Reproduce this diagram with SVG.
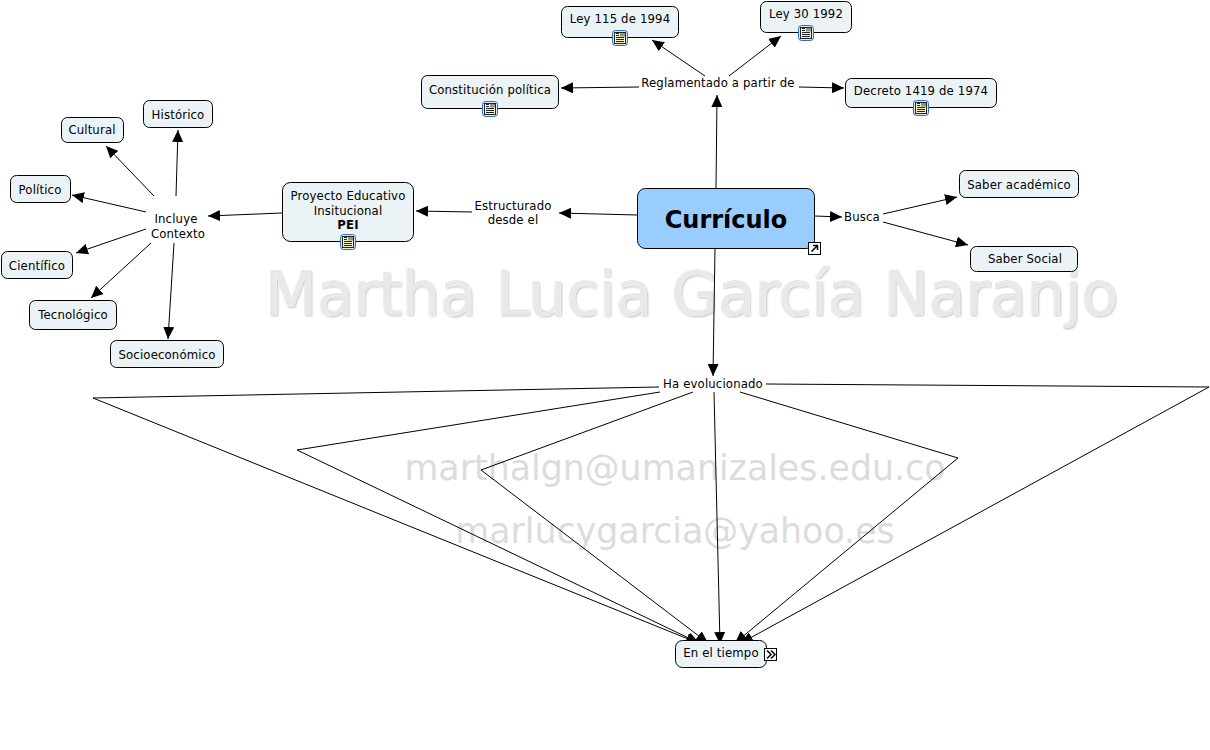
<svg xmlns="http://www.w3.org/2000/svg" width="1210" height="750" viewBox="0 0 1210 750">
<style>
text{font-family:"DejaVu Sans",Verdana,sans-serif;font-size:11.7px;letter-spacing:.15px;fill:#000;text-anchor:middle}
.n{fill:#ebf3f6;stroke:#000;stroke-width:1}
.c{fill:none;stroke:#000;stroke-width:1;marker-end:url(#a)}
.w{font-size:60px;letter-spacing:0;fill:#e9e9e9;stroke:#d4d4d4;stroke-width:1}
.ws{font-size:60px;letter-spacing:0;fill:#b5b5b5;filter:url(#b)}
.wh{font-size:60px;letter-spacing:0;fill:none;stroke:#f8f8f8;stroke-width:.7}
.m{font-size:34.8px;letter-spacing:0;fill:#dcdcdc}
.i1{fill:#dbe8f7;stroke:#2f6fc0;stroke-width:1}
.i2{fill:#fbf6c0;stroke:#222;stroke-width:1}
.i3{stroke:#222;stroke-width:1}
</style>
<defs>
<marker id="a" markerUnits="userSpaceOnUse" markerWidth="13" markerHeight="11" refX="12" refY="5.5" orient="auto"><path d="M0 0L12 5.5L0 11z" fill="#000"/></marker>
<filter id="b" x="-5%" y="-20%" width="110%" height="140%"><feGaussianBlur stdDeviation="1"/></filter>
<g id="doc"><rect class="i1" x="-7.500" y="-7.500" width="15" height="15" rx="3"/><rect class="i2" x="-5.500" y="-5.500" width="11" height="11"/><path class="i3" d="M-4-.5H4M-4 1.500H4M-4 3.500H4M-4-2.500H-1M-4-4.500H-1"/><rect x="0" y="-5" width="5" height="3.500" fill="#7f9f8f"/><rect x="2.500" y="-5" width="2" height="2" fill="#c77"/></g>
</defs>
<rect width="1210" height="750" fill="#fff"/>
<g id="watermark">
<text class="ws" x="692.500" y="316">Martha Lucia García Naranjo</text>
<text class="w" x="691.500" y="314.500">Martha Lucia García Naranjo</text>
<text class="wh" x="691.500" y="314.500">Martha Lucia García Naranjo</text>
<text class="m" x="675" y="480">marthalgn@umanizales.edu.co</text>
<text class="m" x="675" y="543">marlucygarcia@yahoo.es</text>
</g>
<g id="connectors">
<path class="c" d="M716 188L717 95"/>
<path class="c" d="M705 76L652 40"/>
<path class="c" d="M729 76L781 36"/>
<path class="c" d="M639 87L561 88"/>
<path class="c" d="M799 87L844 88"/>
<path class="c" d="M637 215L559 213"/>
<path class="c" d="M472 212L416 211"/>
<path class="c" d="M282 213L208 216"/>
<path class="c" d="M154 196L106 146"/>
<path class="c" d="M176 196L178 130"/>
<path class="c" d="M146 212L72 195"/>
<path class="c" d="M146 229L76 253"/>
<path class="c" d="M151 243L91 298"/>
<path class="c" d="M174 243L168 339"/>
<path class="c" d="M815 216L842 217"/>
<path class="c" d="M883 214L957 197"/>
<path class="c" d="M883 222L968 245"/>
<path class="c" d="M715 249L713 376"/>
<path class="c" d="M659 387L93 398L698 643"/>
<path class="c" d="M660 392L297 450L699 643"/>
<path class="c" d="M693 392L481 470L708 643"/>
<path class="c" d="M714 392L720 644"/>
<path class="c" d="M740 392L958 458L735 643"/>
<path class="c" d="M766 384L1209 387L741 643"/>
</g>
<g id="node-curriculo"><rect x="637.500" y="188.500" width="177" height="60" rx="8" fill="#99ccff" stroke="#000"/><text x="726" y="228" style="font-size:24px;letter-spacing:0;font-weight:700">Currículo</text><rect x="808.500" y="242.500" width="12" height="12" fill="#fff" stroke="#000"/><path d="M811.500 251.500L817 246M813 245.500H817.500V250" fill="none" stroke="#000" stroke-width="1.500"/></g>
<g id="node-ley115"><rect class="n" x="561.500" y="6.500" width="117" height="31" rx="6"/><text x="620" y="23">Ley 115 de 1994</text><use href="#doc" x="620" y="38"/></g>
<g id="node-ley30"><rect class="n" x="760.500" y="1.500" width="91" height="31" rx="6"/><text x="806" y="18">Ley 30 1992</text><use href="#doc" x="806" y="33"/></g>
<g id="node-constitucion"><rect class="n" x="421.500" y="75.500" width="137" height="33" rx="6"/><text x="490" y="94">Constitución política</text><use href="#doc" x="490" y="109"/></g>
<g id="node-decreto"><rect class="n" x="845.500" y="78.500" width="151" height="29" rx="6"/><text x="921" y="95">Decreto 1419 de 1974</text><use href="#doc" x="921" y="108"/></g>
<g id="node-reglamentado"><text x="718" y="87">Reglamentado a partir de</text></g>
<g id="node-estructurado"><text x="513" y="210">Estructurado</text><text x="513" y="224">desde el</text></g>
<g id="node-pei"><rect class="n" x="282.500" y="182.500" width="131" height="59" rx="8"/><text x="348" y="200">Proyecto Educativo</text><text x="348" y="215">Insitucional</text><text x="348" y="229" style="font-weight:700">PEI</text><use href="#doc" x="348" y="242"/></g>
<g id="node-incluye"><text x="176" y="223">Incluye</text><text x="178" y="238">Contexto</text></g>
<g id="node-historico"><rect class="n" x="143.500" y="100.500" width="69" height="27" rx="6"/><text x="178" y="119">Histórico</text></g>
<g id="node-cultural"><rect class="n" x="61.500" y="117.500" width="62" height="25" rx="6"/><text x="92" y="134">Cultural</text></g>
<g id="node-politico"><rect class="n" x="10.500" y="175.500" width="60" height="27" rx="6"/><text x="40" y="194">Político</text></g>
<g id="node-cientifico"><rect class="n" x="1.500" y="251.500" width="71" height="27" rx="6"/><text x="37" y="270">Científico</text></g>
<g id="node-tecnologico"><rect class="n" x="29.500" y="300.500" width="87" height="29" rx="6"/><text x="73" y="319">Tecnológico</text></g>
<g id="node-socio"><rect class="n" x="110.500" y="340.500" width="113" height="27" rx="6"/><text x="167" y="359">Socioeconómico</text></g>
<g id="node-busca"><text x="862" y="221">Busca</text></g>
<g id="node-academico"><rect class="n" x="959.500" y="170.500" width="119" height="27" rx="6"/><text x="1019" y="189">Saber académico</text></g>
<g id="node-social"><rect class="n" x="970.500" y="246.500" width="107" height="25" rx="6"/><text x="1025" y="263">Saber Social</text></g>
<g id="node-evolucionado"><text x="713" y="388">Ha evolucionado</text></g>
<g id="node-tiempo"><rect class="n" x="675.500" y="640.500" width="91" height="27" rx="7"/><text x="721" y="657">En el tiempo</text><rect x="764.500" y="648.500" width="12" height="12" fill="#fff" stroke="#000"/><path d="M767 650.500L771 654.500L767 658.500M771 650.500L775 654.500L771 658.500" fill="none" stroke="#000" stroke-width="1.500"/></g>
</svg>
